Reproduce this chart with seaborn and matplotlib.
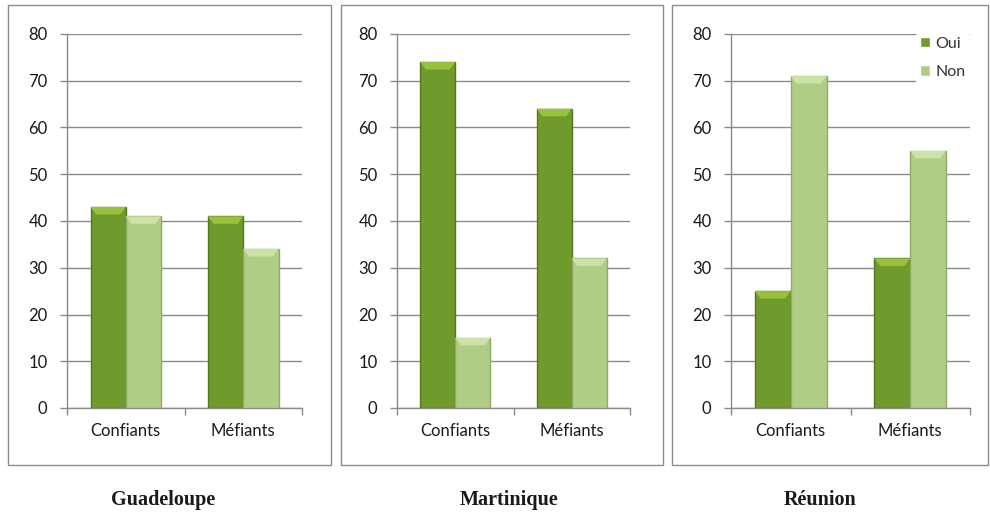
import matplotlib
matplotlib.use("Agg")
import matplotlib.pyplot as plt
import seaborn as sns
import pandas as pd
from matplotlib.patches import Rectangle, Polygon

# --- Data ---
CATEGORIES = ["Confiants", "Méfiants"]
REGIONS = ["Guadeloupe", "Martinique", "Réunion"]
OUI = {"Guadeloupe": [43, 41], "Martinique": [74, 64], "Réunion": [25, 32]}
NON = {"Guadeloupe": [41, 34], "Martinique": [15, 32], "Réunion": [71, 55]}
Y_TICKS = [0, 10, 20, 30, 40, 50, 60, 70, 80]

# --- Style ---
COLOR_OUI = "#6f9a2c"
COLOR_NON = "#b0cd85"
EDGE_OUI = "#54781c"
EDGE_NON = "#8fab66"
TOP_OUI = "#98c23e"
TOP_NON = "#cde2a6"
GRID = "#8a8a8a"
TEXT = "#1a1a1a"

sns.set_theme(style="white")
plt.rcParams['font.family'] = ['Lato', 'DejaVu Sans']

W, H = 990, 528
fig = plt.figure(figsize=(W / 100, H / 100), dpi=100)

# panel boxes (pixels: left, right) and axes extents
BOXES = [(8, 331), (341, 663), (672, 988)]
AXES = [(67, 302), (397, 630), (731, 970)]
AX_TOP, AX_BOT = 34, 408
TITLE_X = [163, 509, 820]


def bevel(ax, bars, top_col):
    # light top facet, taken from the bar geometry seaborn drew
    for b in bars:
        x0, w, h = b.get_x(), b.get_width(), b.get_height()
        d = 0.16 * w
        dy = 1.6
        ax.add_patch(Polygon([(x0, h), (x0 + w, h), (x0 + w - d, h - dy), (x0 + d, h - dy)],
                             closed=True, facecolor=top_col, edgecolor="none", zorder=4))


for i, region in enumerate(REGIONS):
    bl, br = BOXES[i]
    fig.patches.append(Rectangle((bl / W, 1 - 465 / H), (br - bl) / W, (465 - 5) / H,
                                 transform=fig.transFigure, fill=False,
                                 edgecolor="#8c8c8c", linewidth=1.0))

    al, ar = AXES[i]
    ax = fig.add_axes([al / W, 1 - AX_BOT / H, (ar - al) / W, (AX_BOT - AX_TOP) / H])

    df = pd.DataFrame({
        "cat": CATEGORIES * 2,
        "rep": ["Oui"] * 2 + ["Non"] * 2,
        "val": OUI[region] + NON[region],
    })
    sns.barplot(data=df, x="cat", y="val", hue="rep", hue_order=["Oui", "Non"],
                palette=[COLOR_OUI, COLOR_NON], saturation=1, width=0.6, dodge=True,
                ax=ax, legend=(i == 2), zorder=3, linewidth=1.0)

    oui_bars = ax.containers[0]
    non_bars = ax.containers[1]
    for b in oui_bars:
        b.set_edgecolor(EDGE_OUI)
    for b in non_bars:
        b.set_edgecolor(EDGE_NON)
    bevel(ax, oui_bars, TOP_OUI)
    bevel(ax, non_bars, TOP_NON)

    ax.set_ylim(0, 80)
    ax.set_xlim(-0.5, 1.5)
    ax.set_yticks(Y_TICKS)
    ax.yaxis.grid(True, color=GRID, linewidth=1.0, zorder=0)
    ax.set_axisbelow(True)
    ax.set_xlabel("")
    ax.set_ylabel("")

    for s in ["top", "right"]:
        ax.spines[s].set_visible(False)
    for s in ["left", "bottom"]:
        ax.spines[s].set_color(GRID)
        ax.spines[s].set_linewidth(1.0)

    ax.tick_params(axis="y", length=5, width=1, color=GRID, direction="out",
                   labelsize=12, labelcolor=TEXT, pad=9, left=True)
    ax.tick_params(axis="x", length=0, labelsize=12, labelcolor=TEXT, pad=11)
    ax.set_xticks([-0.5, 0.5, 1.5], minor=True)
    ax.tick_params(axis="x", which="minor", length=5, width=1, color=GRID,
                   direction="out", bottom=True)

    if i == 2:
        leg = ax.legend(loc="upper right", bbox_to_anchor=(1.03, 1.025), frameon=True,
                        fontsize=11.5, handlelength=0.65, handleheight=0.65,
                        handletextpad=0.3, labelspacing=0.9, borderpad=0.25)
        leg.get_frame().set_facecolor("white")
        leg.get_frame().set_edgecolor("white")
        leg.get_frame().set_alpha(1.0)
        for t in leg.get_texts():
            t.set_color("#333333")

    fig.text(TITLE_X[i] / W, 1 - 500 / H, region, ha="center", va="center",
             family=["Liberation Serif", "DejaVu Serif"], fontweight="bold",
             fontsize=14.5, color=TEXT)

fig.savefig("out.png", dpi=100)
